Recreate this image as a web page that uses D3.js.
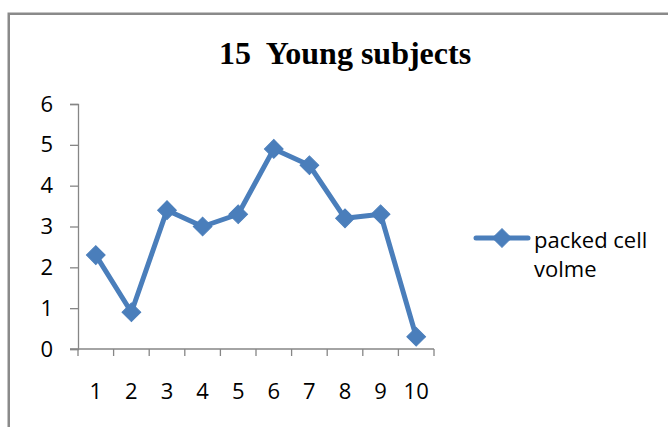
<!DOCTYPE html>
<html>
<head>
<meta charset="utf-8">
<script src="https://cdn.jsdelivr.net/npm/d3@7/dist/d3.min.js"></script>
<style>
  html, body { margin: 0; padding: 0; background: #fff; }
  svg { display: block; }
</style>
</head>
<body>
<svg id="chart" width="668" height="427"></svg>
<script>
// Packed cell volume readings for subjects 1-10
const categories = ["1", "2", "3", "4", "5", "6", "7", "8", "9", "10"];
const values = [2.3, 0.9, 3.4, 3.0, 3.3, 4.9, 4.5, 3.2, 3.3, 0.3];
const yTicks = [0, 1, 2, 3, 4, 5, 6];
const seriesName = ["packed cell", "volme"];
const titleText = "15  Young subjects";

const svg = d3.select("#chart");
const blue = "#4a7ebb";
const axisGrey = "#868686";
const labelFont = "'Open Sans', 'Noto Sans', sans-serif";
const labelSize = 22;

// Outer chart frame (runs past the right and bottom edges)
svg.append("rect")
  .attr("x", 8.75).attr("y", 13.75)
  .attr("width", 700).attr("height", 440)
  .attr("fill", "#fff")
  .attr("stroke", "#8a8a8a")
  .attr("stroke-width", 2.5);

const plot = { left: 78, right: 434, top: 104, bottom: 349 };

const x = d3.scaleBand().domain(categories).range([plot.left, plot.right]);
const y = d3.scaleLinear().domain([0, 6]).range([plot.bottom, plot.top]);

// Title
svg.append("text")
  .attr("x", 345).attr("y", 63.5)
  .attr("text-anchor", "middle")
  .attr("font-family", "'Liberation Serif', 'Times New Roman', serif")
  .attr("font-weight", "bold")
  .attr("font-size", 32)
  .attr("fill", "#000")
  .style("white-space", "pre")
  .text(titleText);

// Y axis
const yAxis = svg.append("g")
  .attr("transform", `translate(${plot.left},0)`)
  .call(d3.axisLeft(y).tickValues(yTicks).tickFormat(d3.format("d")).tickSize(8).tickPadding(17));
yAxis.select(".domain").attr("stroke", axisGrey).attr("stroke-width", 1.3);
yAxis.selectAll(".tick line").attr("stroke", axisGrey).attr("stroke-width", 1.3);
yAxis.selectAll(".tick text")
  .attr("font-family", labelFont).attr("font-size", labelSize).attr("fill", "#000");

// X axis: tick marks on category boundaries
const xAxisG = svg.append("g").attr("transform", `translate(0,${plot.bottom})`);
xAxisG.append("line")
  .attr("x1", plot.left - 8).attr("x2", plot.right)
  .attr("y1", 0).attr("y2", 0)
  .attr("stroke", axisGrey).attr("stroke-width", 1.3);
const boundaries = categories.map(c => x(c)).concat([x(categories[categories.length - 1]) + x.bandwidth()]);
xAxisG.selectAll("line.tk").data(boundaries).enter().append("line")
  .attr("class", "tk")
  .attr("x1", d => d).attr("x2", d => d)
  .attr("y1", 0).attr("y2", 7)
  .attr("stroke", axisGrey).attr("stroke-width", 1.3);
xAxisG.selectAll("text").data(categories).enter().append("text")
  .attr("x", d => x(d) + x.bandwidth() / 2)
  .attr("y", 49.5)
  .attr("text-anchor", "middle")
  .attr("font-family", labelFont).attr("font-size", labelSize).attr("fill", "#000")
  .text(d => d);

// Series line
const line = d3.line()
  .x((d, i) => x(categories[i]) + x.bandwidth() / 2)
  .y(d => y(d));
svg.append("path")
  .datum(values)
  .attr("d", line)
  .attr("fill", "none")
  .attr("stroke", blue)
  .attr("stroke-width", 5)
  .attr("stroke-linejoin", "round");

// Diamond markers
const diamond = d3.symbol().type(d3.symbolSquare).size(175);
svg.selectAll("path.marker").data(values).enter().append("path")
  .attr("class", "marker")
  .attr("d", diamond)
  .attr("transform", (d, i) => `translate(${x(categories[i]) + x.bandwidth() / 2},${y(d)}) rotate(45)`)
  .attr("fill", blue)
  .attr("stroke", blue)
  .attr("stroke-width", 1);

// Legend
const lg = svg.append("g").attr("transform", "translate(476,238)");
lg.append("line")
  .attr("x1", 0).attr("x2", 52).attr("y1", 0).attr("y2", 0)
  .attr("stroke", blue).attr("stroke-width", 5).attr("stroke-linecap", "round");
lg.append("path")
  .attr("d", diamond)
  .attr("transform", "translate(26,0) rotate(45)")
  .attr("fill", blue).attr("stroke", blue);
lg.selectAll("text").data(seriesName).enter().append("text")
  .attr("x", 58)
  .attr("y", (d, i) => 9.5 + i * 29.5)
  .attr("font-family", labelFont).attr("font-size", labelSize).attr("fill", "#000")
  .text(d => d);
</script>
</body>
</html>
